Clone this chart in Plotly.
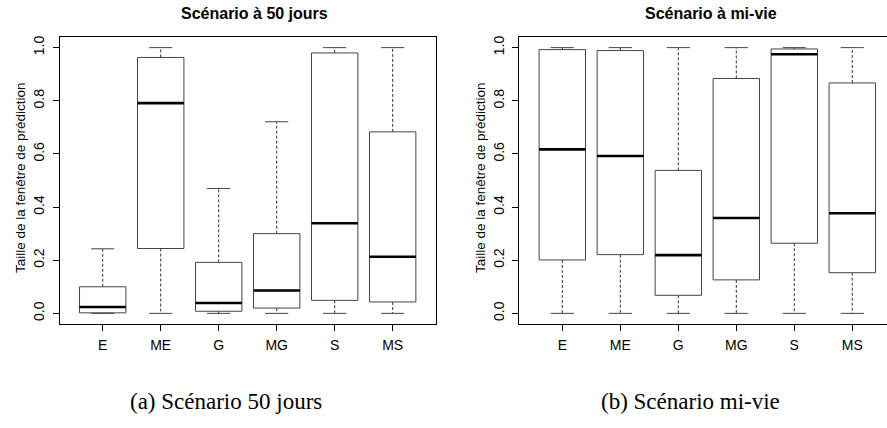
import plotly.graph_objects as go

cats = ["E", "ME", "G", "MG", "S", "MS"]

# Scénario à 50 jours
a_low = [0.0, 0.0, 0.0, 0.0, 0.0, 0.0]
a_q1 = [0.002, 0.244, 0.008, 0.020, 0.049, 0.043]
a_med = [0.024, 0.791, 0.039, 0.086, 0.339, 0.213]
a_q3 = [0.100, 0.963, 0.192, 0.300, 0.980, 0.683]
a_high = [0.243, 1.0, 0.470, 0.721, 1.0, 1.0]

# Scénario à mi-vie
b_low = [0.0, 0.0, 0.0, 0.0, 0.0, 0.0]
b_q1 = [0.201, 0.221, 0.068, 0.126, 0.264, 0.153]
b_med = [0.617, 0.592, 0.219, 0.359, 0.975, 0.377]
b_q3 = [0.9925, 0.989, 0.538, 0.884, 0.995, 0.867]
b_high = [1.0, 1.0, 1.0, 1.0, 1.0, 1.0]

yticks = [0.0, 0.2, 0.4, 0.6, 0.8, 1.0]
ytick_text = ["0.0", "0.2", "0.4", "0.6", "0.8", "1.0"]

W, H = 887, 428
BOXW = 0.4   # half box width
CAPW = 0.2   # half cap width


def box_traces(low, q1, med, q3, high, xa, ya):
    bx, by, mx, my, wx, wy, cx, cy = [], [], [], [], [], [], [], []
    for i in range(len(cats)):
        p = i + 1
        bx += [p - BOXW, p + BOXW, p + BOXW, p - BOXW, p - BOXW, None]
        by += [q1[i], q1[i], q3[i], q3[i], q1[i], None]
        mx += [p - BOXW, p + BOXW, None]
        my += [med[i], med[i], None]
        wx += [p, p, None, p, p, None]
        wy += [q3[i], high[i], None, q1[i], low[i], None]
        cx += [p - CAPW, p + CAPW, None, p - CAPW, p + CAPW, None]
        cy += [high[i], high[i], None, low[i], low[i], None]
    common = dict(mode="lines", xaxis=xa, yaxis=ya, showlegend=False, hoverinfo="skip")
    return [
        go.Scatter(x=wx, y=wy, line=dict(color="#333333", width=1, dash="3px,2px"), **common),
        go.Scatter(x=cx, y=cy, line=dict(color="#444444", width=1), **common),
        go.Scatter(x=bx, y=by, line=dict(color="#444444", width=1), **common),
        go.Scatter(x=mx, y=my, line=dict(color="black", width=2.6), **common),
    ]


fig = go.Figure()
for t in box_traces(a_low, a_q1, a_med, a_q3, a_high, "x", "y"):
    fig.add_trace(t)
for t in box_traces(b_low, b_q1, b_med, b_q3, b_high, "x2", "y2"):
    fig.add_trace(t)

# plot-area pixel geometry
L1, R1 = 59.8, 435.6
L2, R2 = 519.4, 887.0
TOP, BOT = 37.0, 324.0
unit = (R1 - L1) / 6.48
x2max = 0.26 + (R2 - L2) / unit

tickfont = dict(family="Liberation Sans, Arial, sans-serif", size=14, color="black")
xcommon = dict(
    tickmode="array", tickvals=list(range(1, 7)), ticktext=cats,
    showline=True, mirror=True, linecolor="black", linewidth=1,
    ticks="outside", ticklen=6, tickcolor="black", tickwidth=1,
    showgrid=False, zeroline=False, tickfont=tickfont, ticklabelstandoff=2,
)
ycommon = dict(
    tickmode="array", tickvals=yticks, ticktext=ytick_text, range=[-0.04, 1.04],
    showline=True, linecolor="black", linewidth=1,
    ticks="outside", ticklen=6, tickcolor="black", tickwidth=1,
    showgrid=False, zeroline=False, tickfont=tickfont, tickangle=-90,
    ticklabelstandoff=3,
)

fig.update_layout(
    width=W, height=H, autosize=False,
    margin=dict(l=0, r=0, t=0, b=0),
    paper_bgcolor="white", plot_bgcolor="white",
    xaxis=dict(domain=[L1 / W, R1 / W], range=[0.26, 6.74], anchor="y", **xcommon),
    yaxis=dict(domain=[1 - BOT / H, 1 - TOP / H], anchor="x", mirror=True, **ycommon),
    xaxis2=dict(domain=[L2 / W, 1.0], range=[0.26, x2max], anchor="y2", **xcommon),
    yaxis2=dict(domain=[1 - BOT / H, 1 - TOP / H], anchor="x2", mirror=False, **ycommon),
)

sans = "Liberation Sans, Arial, sans-serif"
serif = "Liberation Serif, Times New Roman, serif"
ann = []
ann.append(dict(text="<b>Scénario à 50 jours</b>", x=254 / W, y=1 - 14 / H, xref="paper", yref="paper",
                showarrow=False, font=dict(family=sans, size=16, color="black"), xanchor="center", yanchor="middle"))
ann.append(dict(text="<b>Scénario à mi-vie</b>", x=710.5 / W, y=1 - 14 / H, xref="paper", yref="paper",
                showarrow=False, font=dict(family=sans, size=16, color="black"), xanchor="center", yanchor="middle"))
for xc in (20, 480):
    ann.append(dict(text="Taille de la fenêtre de prédiction", x=xc / W, y=1 - 178 / H,
                    xref="paper", yref="paper", showarrow=False, textangle=-90,
                    font=dict(family=sans, size=13.5, color="black"), xanchor="center", yanchor="middle"))
ann.append(dict(text="(a) Scénario 50 jours", x=226 / W, y=1 - 401 / H, xref="paper", yref="paper",
                showarrow=False, font=dict(family=serif, size=23, color="black"), xanchor="center", yanchor="middle"))
ann.append(dict(text="(b) Scénario mi-vie", x=690 / W, y=1 - 401 / H, xref="paper", yref="paper",
                showarrow=False, font=dict(family=serif, size=23, color="black"), xanchor="center", yanchor="middle"))
fig.update_layout(annotations=ann)

fig.write_html("out.html", config={"displayModeBar": False, "staticPlot": True},
               post_script="document.body.style.margin='0px';document.body.style.overflow='hidden';")
